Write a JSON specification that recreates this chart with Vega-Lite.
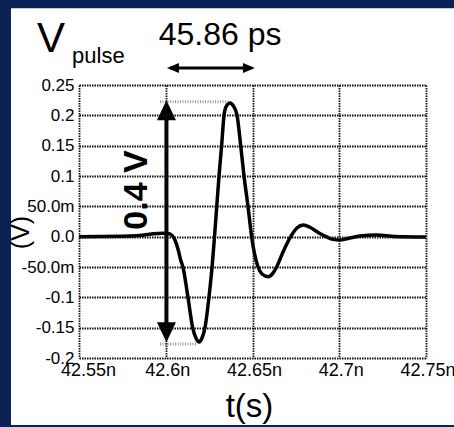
{
  "$schema": "https://vega.github.io/schema/vega-lite/v6.json",
  "autosize": {"type": "none"},
  "width": 347,
  "height": 273,
  "padding": {"left": 79, "top": 85, "right": 28, "bottom": 69},
  "background": "#0c2255",
  "config": {
    "view": {"stroke": null},
    "axis": {
      "domain": false,
      "ticks": false,
      "grid": true,
      "gridColor": "#111111",
      "gridDash": [1.5, 1],
      "gridWidth": 1.8,
      "gridOpacity": 1,
      "labelFont": "Liberation Sans",
      "labelFontSize": 17,
      "labelColor": "#000000",
      "labelOverlap": false,
      "labelFlush": false,
      "titleFont": "Liberation Sans",
      "titleFontWeight": "normal",
      "titleColor": "#000000"
    }
  },
  "datasets": {
    "wave": [
      {"t": 42.55, "v": 0.0},
      {"t": 42.575, "v": 0.0005},
      {"t": 42.585, "v": 0.002},
      {"t": 42.592, "v": 0.0045},
      {"t": 42.598, "v": 0.0058},
      {"t": 42.6015, "v": 0.0052},
      {"t": 42.6034, "v": 0.0027},
      {"t": 42.6053, "v": -0.0055},
      {"t": 42.6072, "v": -0.022},
      {"t": 42.6086, "v": -0.0385},
      {"t": 42.6099, "v": -0.05},
      {"t": 42.6128, "v": -0.1},
      {"t": 42.6155, "v": -0.15},
      {"t": 42.6174, "v": -0.167},
      {"t": 42.6192, "v": -0.1736},
      {"t": 42.6209, "v": -0.167},
      {"t": 42.6226, "v": -0.15},
      {"t": 42.6249, "v": -0.1},
      {"t": 42.6267, "v": -0.05},
      {"t": 42.6281, "v": 0.0},
      {"t": 42.6294, "v": 0.05},
      {"t": 42.6307, "v": 0.1},
      {"t": 42.6322, "v": 0.15},
      {"t": 42.6336, "v": 0.2},
      {"t": 42.635, "v": 0.2154},
      {"t": 42.637, "v": 0.2203},
      {"t": 42.639, "v": 0.2154},
      {"t": 42.6411, "v": 0.2},
      {"t": 42.6432, "v": 0.15},
      {"t": 42.6451, "v": 0.1},
      {"t": 42.6474, "v": 0.05},
      {"t": 42.6495, "v": 0.0},
      {"t": 42.6532, "v": -0.05},
      {"t": 42.6555, "v": -0.0615},
      {"t": 42.6591, "v": -0.066},
      {"t": 42.6618, "v": -0.06},
      {"t": 42.6639, "v": -0.05},
      {"t": 42.6676, "v": -0.0253},
      {"t": 42.672, "v": 0.0},
      {"t": 42.6756, "v": 0.0143},
      {"t": 42.6793, "v": 0.0192},
      {"t": 42.6831, "v": 0.0155},
      {"t": 42.6878, "v": 0.007},
      {"t": 42.6928, "v": -0.0005},
      {"t": 42.6964, "v": -0.0045},
      {"t": 42.7004, "v": -0.0055},
      {"t": 42.705, "v": -0.003},
      {"t": 42.712, "v": 0.0011},
      {"t": 42.7216, "v": 0.0027},
      {"t": 42.7321, "v": 0.0003},
      {"t": 42.75, "v": -0.0005}
    ],
    "notes": [
      {"kind": "panel", "t": 42.5108, "t2": 42.7696, "v": 0.3764, "v2": -0.3104},
      {"kind": "varrow", "t": 42.6004, "v": 0.2, "v2": -0.15},
      {"kind": "harrow", "t": 42.6025, "t2": 42.6495, "v": 0.278},
      {"kind": "dot", "t": 42.5967, "t2": 42.6359, "v": 0.2225},
      {"kind": "dot", "t": 42.5967, "t2": 42.618, "v": -0.177},
      {"kind": "headUp", "t": 42.6004, "v": 0.225},
      {"kind": "headDown", "t": 42.6004, "v": -0.174},
      {"kind": "headLeft", "t": 42.6007, "v": 0.278},
      {"kind": "headRight", "t": 42.6514, "v": 0.278},
      {"kind": "bigV", "t": 42.5258, "v": 0.3044, "label": "V"},
      {"kind": "sub", "t": 42.546, "v": 0.2863, "label": "pulse"},
      {"kind": "width", "t": 42.6313, "v": 0.3159, "label": "45.86 ps"},
      {"kind": "amp", "t": 42.5892, "v": 0.0769, "label": "0.4 V"}
    ]
  },
  "encoding": {
    "x": {
      "field": "t",
      "type": "quantitative",
      "scale": {"domain": [42.55, 42.75], "nice": false, "zero": false},
      "axis": {
        "zindex": 1,
        "values": [42.55, 42.6, 42.65, 42.7, 42.75],
        "labelExpr": "toString(datum.value) + 'n'",
        "labelFontSize": 18,
        "labelPadding": 3,
        "labelOffset": {"condition": {"test": "datum.value < 42.56", "value": 9}, "value": 1.5},
        "title": "t(s)",
        "titleFontSize": 33,
        "titleX": 170,
        "titleY": 58,
        "titleAlign": "center",
        "titleBaseline": "alphabetic"
      }
    },
    "y": {
      "field": "v",
      "type": "quantitative",
      "scale": {"domain": [-0.2, 0.25], "nice": false, "zero": false},
      "axis": {
        "zindex": 1,
        "values": [0.25, 0.2, 0.15, 0.1, 0.05, 0, -0.05, -0.1, -0.15, -0.2],
        "labelExpr": "abs(datum.value-0.05)<1e-9 ? '50.0m' : abs(datum.value)<1e-9 ? '0.0' : abs(datum.value+0.05)<1e-9 ? '-50.0m' : toString(datum.value)",
        "labelPadding": 5,
        "title": "(V)",
        "titleFontSize": 25,
        "titleAngle": 270,
        "titleX": -51,
        "titleY": 147,
        "titleAlign": "center",
        "titleBaseline": "alphabetic"
      }
    }
  },
  "layer": [
    {
      "data": {"name": "notes"},
      "transform": [{"filter": "datum.kind == 'panel'"}],
      "mark": {"type": "rect", "fill": "#ffffff", "clip": false},
      "encoding": {"x2": {"field": "t2"}, "y2": {"field": "v2"}}
    },
    {
      "data": {"name": "wave"},
      "mark": {"type": "line", "color": "#000000", "strokeWidth": 3.5, "interpolate": "monotone"}
    },
    {
      "data": {"name": "notes"},
      "transform": [{"filter": "datum.kind == 'dot'"}],
      "mark": {"type": "rule", "color": "#999999", "strokeWidth": 3, "strokeDash": [1, 1.5]},
      "encoding": {"x2": {"field": "t2"}}
    },
    {
      "data": {"name": "notes"},
      "transform": [{"filter": "datum.kind == 'varrow'"}],
      "mark": {"type": "rule", "color": "#000000", "strokeWidth": 4},
      "encoding": {"y2": {"field": "v2"}}
    },
    {
      "data": {"name": "notes"},
      "transform": [{"filter": "datum.kind == 'harrow'"}],
      "mark": {"type": "rule", "color": "#000000", "strokeWidth": 3, "clip": false},
      "encoding": {"x2": {"field": "t2"}}
    },
    {
      "data": {"name": "notes"},
      "transform": [{"filter": "datum.kind == 'headUp'"}],
      "mark": {"type": "point", "shape": "M0,0L-0.95,2L0.95,2Z", "size": 400, "filled": true, "color": "#000000", "opacity": 1}
    },
    {
      "data": {"name": "notes"},
      "transform": [{"filter": "datum.kind == 'headDown'"}],
      "mark": {"type": "point", "shape": "M0,0L-0.95,-2L0.95,-2Z", "size": 400, "filled": true, "color": "#000000", "opacity": 1}
    },
    {
      "data": {"name": "notes"},
      "transform": [{"filter": "datum.kind == 'headLeft'"}],
      "mark": {"type": "point", "shape": "M0,0L2.4,-1L2.4,1Z", "size": 100, "filled": true, "color": "#000000", "opacity": 1, "clip": false}
    },
    {
      "data": {"name": "notes"},
      "transform": [{"filter": "datum.kind == 'headRight'"}],
      "mark": {"type": "point", "shape": "M0,0L-2.4,-1L-2.4,1Z", "size": 100, "filled": true, "color": "#000000", "opacity": 1, "clip": false}
    },
    {
      "data": {"name": "notes"},
      "transform": [{"filter": "datum.kind == 'bigV'"}],
      "mark": {"type": "text", "font": "Liberation Sans", "fontSize": 42, "align": "left", "baseline": "alphabetic", "color": "#000000"},
      "encoding": {"text": {"field": "label"}}
    },
    {
      "data": {"name": "notes"},
      "transform": [{"filter": "datum.kind == 'sub'"}],
      "mark": {"type": "text", "font": "Liberation Sans", "fontSize": 22, "align": "left", "baseline": "alphabetic", "color": "#000000"},
      "encoding": {"text": {"field": "label"}}
    },
    {
      "data": {"name": "notes"},
      "transform": [{"filter": "datum.kind == 'width'"}],
      "mark": {"type": "text", "font": "Liberation Sans", "fontSize": 32, "align": "center", "baseline": "alphabetic", "color": "#000000"},
      "encoding": {"text": {"field": "label"}}
    },
    {
      "data": {"name": "notes"},
      "transform": [{"filter": "datum.kind == 'amp'"}],
      "mark": {"type": "text", "font": "Liberation Sans", "fontSize": 34, "fontWeight": "bold", "angle": 270, "align": "center", "baseline": "alphabetic", "color": "#000000"},
      "encoding": {"text": {"field": "label"}}
    }
  ]
}
